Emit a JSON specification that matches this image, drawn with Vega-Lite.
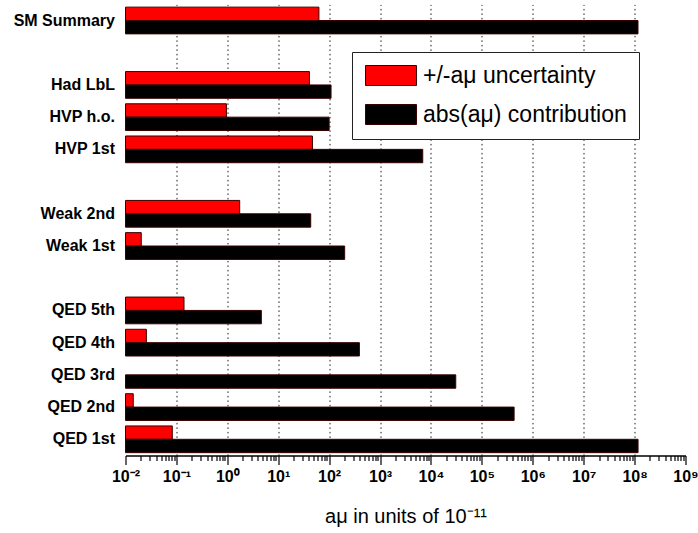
{
  "$schema": "https://vega.github.io/schema/vega-lite/v6.json",
  "width": 560,
  "height": 451,
  "autosize": "none",
  "padding": {"left": 125.5, "top": 4.4, "right": 12.5, "bottom": 77.6},
  "background": "white",
  "config": {"view": {"stroke": null}, "font": "Liberation Sans"},
  "data": {
    "values": [
      {"term": "SM Summary", "series": "+/-aμ uncertainty", "value": 63},
      {"term": "SM Summary", "series": "abs(aμ) contribution", "value": 116600000},
      {"term": "Had LbL", "series": "+/-aμ uncertainty", "value": 41},
      {"term": "Had LbL", "series": "abs(aμ) contribution", "value": 109},
      {"term": "HVP h.o.", "series": "+/-aμ uncertainty", "value": 0.96},
      {"term": "HVP h.o.", "series": "abs(aμ) contribution", "value": 100},
      {"term": "HVP 1st", "series": "+/-aμ uncertainty", "value": 47},
      {"term": "HVP 1st", "series": "abs(aμ) contribution", "value": 6900},
      {"term": "Weak 2nd", "series": "+/-aμ uncertainty", "value": 1.75},
      {"term": "Weak 2nd", "series": "abs(aμ) contribution", "value": 43.5},
      {"term": "Weak 1st", "series": "+/-aμ uncertainty", "value": 0.0204},
      {"term": "Weak 1st", "series": "abs(aμ) contribution", "value": 202},
      {"term": "QED 5th", "series": "+/-aμ uncertainty", "value": 0.141},
      {"term": "QED 5th", "series": "abs(aμ) contribution", "value": 4.66},
      {"term": "QED 4th", "series": "+/-aμ uncertainty", "value": 0.0257},
      {"term": "QED 4th", "series": "abs(aμ) contribution", "value": 393},
      {"term": "QED 3rd", "series": "abs(aμ) contribution", "value": 30700},
      {"term": "QED 2nd", "series": "+/-aμ uncertainty", "value": 0.0142},
      {"term": "QED 2nd", "series": "abs(aμ) contribution", "value": 430000},
      {"term": "QED 1st", "series": "+/-aμ uncertainty", "value": 0.083},
      {"term": "QED 1st", "series": "abs(aμ) contribution", "value": 117000000}
    ]
  },
  "mark": {"type": "bar", "stroke": "#3a0000", "strokeWidth": 1},
  "encoding": {
    "y": {
      "field": "term",
      "type": "nominal",
      "scale": {
        "domain": ["SM Summary", " ", "Had LbL", "HVP h.o.", "HVP 1st", "  ", "Weak 2nd", "Weak 1st", "   ", "QED 5th", "QED 4th", "QED 3rd", "QED 2nd", "QED 1st"],
        "paddingInner": 0.17,
        "paddingOuter": 0.085
      },
      "axis": {
        "title": null,
        "domain": false,
        "ticks": false,
        "labelFont": "Liberation Sans",
        "labelFontSize": 16,
        "labelFontWeight": "bold",
        "labelColor": "black",
        "labelPadding": 11
      }
    },
    "yOffset": {
      "field": "series",
      "type": "nominal",
      "scale": {"domain": ["+/-aμ uncertainty", "abs(aμ) contribution"], "paddingInner": 0, "paddingOuter": 0}
    },
    "x": {
      "field": "value",
      "type": "quantitative",
      "scale": {"type": "log", "domain": [0.01, 1000000000], "nice": false},
      "axis": {
        "title": "aμ in units of 10⁻¹¹",
        "titleFont": "Liberation Sans",
        "titleFontSize": 20,
        "titleFontWeight": "normal",
        "titleColor": "black",
        "titlePadding": 22,
        "values": [0.01, 0.02, 0.03, 0.04, 0.05, 0.06, 0.07, 0.08, 0.09,
                   0.1, 0.2, 0.3, 0.4, 0.5, 0.6, 0.7, 0.8, 0.9,
                   1, 2, 3, 4, 5, 6, 7, 8, 9,
                   10, 20, 30, 40, 50, 60, 70, 80, 90,
                   100, 200, 300, 400, 500, 600, 700, 800, 900,
                   1000, 2000, 3000, 4000, 5000, 6000, 7000, 8000, 9000,
                   10000, 20000, 30000, 40000, 50000, 60000, 70000, 80000, 90000,
                   100000, 200000, 300000, 400000, 500000, 600000, 700000, 800000, 900000,
                   1000000, 2000000, 3000000, 4000000, 5000000, 6000000, 7000000, 8000000, 9000000,
                   10000000, 20000000, 30000000, 40000000, 50000000, 60000000, 70000000, 80000000, 90000000,
                   100000000, 200000000, 300000000, 400000000, 500000000, 600000000, 700000000, 800000000, 900000000,
                   1000000000],
        "labelExpr": "abs(log(datum.value)/LN10 - round(log(datum.value)/LN10)) < 0.001 ? ['10⁻²','10⁻¹','10⁰','10¹','10²','10³','10⁴','10⁵','10⁶','10⁷','10⁸','10⁹'][round(log(datum.value)/LN10) + 2] : ''",
        "labelFont": "Liberation Sans",
        "labelFontSize": 16,
        "labelFontWeight": "bold",
        "labelColor": "black",
        "labelPadding": 4,
        "labelOverlap": false,
        "labelFlush": false,
        "labelBound": false,
        "domainColor": "black",
        "domainWidth": 1.5,
        "tickColor": "black",
        "tickWidth": 1.2,
        "tickSize": {"condition": {"test": "abs(log(datum.value)/LN10 - round(log(datum.value)/LN10)) < 0.001", "value": 9}, "value": 5},
        "grid": true,
        "gridColor": "black",
        "gridWidth": 1,
        "gridDash": [1.5, 3],
        "gridOpacity": {"condition": {"test": "abs(log(datum.value)/LN10 - round(log(datum.value)/LN10)) < 0.001 && datum.value > 0.05 && datum.value < 500000000", "value": 0.9}, "value": 0}
      }
    },
    "x2": {"datum": 0.01},
    "color": {
      "field": "series",
      "type": "nominal",
      "scale": {"domain": ["+/-aμ uncertainty", "abs(aμ) contribution"], "range": ["#ff0000", "#000000"]},
      "legend": {
        "orient": "none",
        "legendX": 226.5,
        "legendY": 47.6,
        "title": null,
        "fillColor": "white",
        "strokeColor": "#222222",
        "padding": 12,
        "symbolType": "M-2.55,-1H2.55V1H-2.55Z",
        "symbolSize": 400,
        "symbolStrokeColor": "#3a0000",
        "symbolStrokeWidth": 1,
        "symbolOffset": 15.5,
        "labelFont": "Liberation Sans",
        "labelFontSize": 23,
        "labelColor": "black",
        "labelOffset": 20.5,
        "labelLimit": 400,
        "rowPadding": 14
      }
    }
  }
}
